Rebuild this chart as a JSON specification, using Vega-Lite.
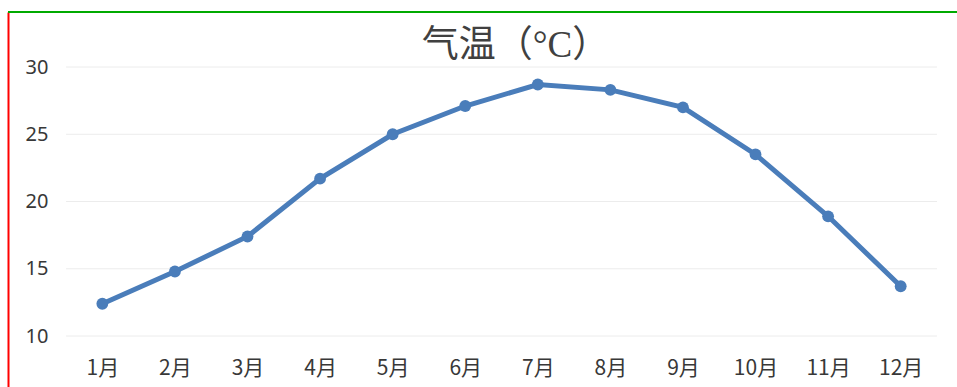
{
  "$schema": "https://vega.github.io/schema/vega-lite/v6.json",
  "width": 949,
  "height": 375,
  "autosize": {"type": "none"},
  "padding": {"left": 8, "top": 12, "right": 0, "bottom": 0},
  "background": "white",
  "view": {"stroke": null},
  "title": {
    "text": "气温（°C）",
    "anchor": "middle",
    "frame": "group",
    "offset": -52,
    "dy": 39,
    "dx": 33,
    "baseline": "bottom",
    "font": "Liberation Serif, Noto Sans CJK SC",
    "fontSize": 37,
    "fontWeight": "normal",
    "color": "#404040"
  },
  "config": {
    "view": {"stroke": null},
    "axis": {
      "domainWidth": 2,
      "ticks": false,
      "tickSize": 0,
      "grid": false,
      "title": null,
      "labelColor": "#383838",
      "labelBound": false,
      "labelOverlap": false,
      "labelFlush": false
    },
    "axisX": {"domain": false},
    "axisY": {"domain": true, "domainColor": "#ff0000"}
  },
  "datasets": {
    "temps": [
      {"month": 1, "temp": 12.4},
      {"month": 2, "temp": 14.8},
      {"month": 3, "temp": 17.4},
      {"month": 4, "temp": 21.7},
      {"month": 5, "temp": 25.0},
      {"month": 6, "temp": 27.1},
      {"month": 7, "temp": 28.7},
      {"month": 8, "temp": 28.3},
      {"month": 9, "temp": 27.0},
      {"month": 10, "temp": 23.5},
      {"month": 11, "temp": 18.9},
      {"month": 12, "temp": 13.7}
    ],
    "grid": [
      {"level": 10},
      {"level": 15},
      {"level": 20},
      {"level": 25},
      {"level": 30}
    ]
  },
  "layer": [
    {
      "data": {"name": "grid"},
      "mark": {"type": "rule", "color": "#ececec", "strokeWidth": 1},
      "encoding": {
        "x": {
          "datum": 0.5,
          "type": "quantitative",
          "scale": {"domain": [-0.3, 12.776], "nice": false, "zero": false},
          "axis": {
            "orient": "top",
            "values": [1, 2, 3, 4, 5, 6, 7, 8, 9, 10, 11, 12],
            "labelExpr": "datum.value + '月'",
            "labelPadding": -366,
            "labelBaseline": "bottom",
            "labelFont": "Noto Sans CJK SC",
            "labelFontSize": 21
          }
        },
        "x2": {"datum": 12.5},
        "y": {
          "field": "level",
          "type": "quantitative",
          "scale": {"domain": [6.21, 34.09], "nice": false, "zero": false},
          "axis": {
            "orient": "left",
            "values": [10, 15, 20, 25, 30],
            "labelPadding": -40,
            "labelFont": "Noto Sans",
            "labelFontSize": 20
          }
        }
      }
    },
    {
      "data": {"values": [{}]},
      "mark": {"type": "rule", "color": "#00aa00", "strokeWidth": 2},
      "encoding": {
        "y": {
          "datum": 34.09,
          "type": "quantitative",
          "scale": {"domain": [6.21, 34.09], "nice": false, "zero": false},
          "axis": {
            "orient": "left",
            "values": [10, 15, 20, 25, 30],
            "labelPadding": -40,
            "labelFont": "Noto Sans",
            "labelFontSize": 20
          }
        }
      }
    },
    {
      "data": {"name": "temps"},
      "mark": {
        "type": "line",
        "color": "#4a7dba",
        "strokeWidth": 5,
        "point": {"filled": true, "size": 140, "color": "#4a7dba"}
      },
      "encoding": {
        "x": {
          "field": "month",
          "type": "quantitative",
          "scale": {"domain": [-0.3, 12.776], "nice": false, "zero": false},
          "axis": {
            "orient": "top",
            "values": [1, 2, 3, 4, 5, 6, 7, 8, 9, 10, 11, 12],
            "labelExpr": "datum.value + '月'",
            "labelPadding": -366,
            "labelBaseline": "bottom",
            "labelFont": "Noto Sans CJK SC",
            "labelFontSize": 21
          }
        },
        "y": {
          "field": "temp",
          "type": "quantitative",
          "scale": {"domain": [6.21, 34.09], "nice": false, "zero": false},
          "axis": {
            "orient": "left",
            "values": [10, 15, 20, 25, 30],
            "labelPadding": -40,
            "labelFont": "Noto Sans",
            "labelFontSize": 20
          }
        }
      }
    }
  ]
}
